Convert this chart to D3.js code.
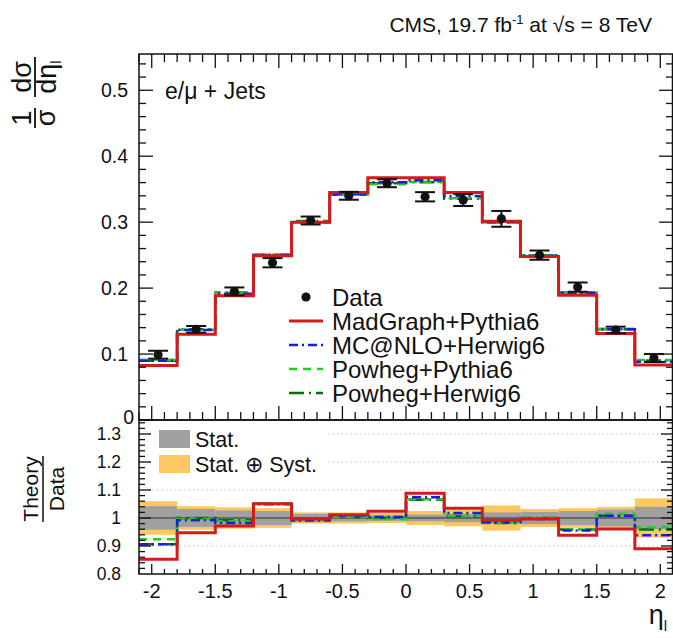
<!DOCTYPE html>
<html>
<head>
<meta charset="utf-8">
<script src="https://cdn.jsdelivr.net/npm/d3@7"></script>
<style>
  html, body { margin: 0; padding: 0; background: #fff; }
  svg { display: block; font-family: "Liberation Sans", Arial, Helvetica, sans-serif; }
</style>
</head>
<body>
<svg id="chart" width="673" height="638"></svg>
<script>
// ---------------- data ----------------
const etaEdges = [-2.1, -1.8, -1.5, -1.2, -0.9, -0.6, -0.3, 0, 0.3, 0.6, 0.9, 1.2, 1.5, 1.8, 2.1];
const dataValues = [0.099, 0.1375, 0.195, 0.2385, 0.3025, 0.340, 0.359, 0.3385, 0.3335, 0.305, 0.250, 0.2015, 0.1365, 0.094];
const dataErrors = [0.006, 0.005, 0.006, 0.007, 0.006, 0.006, 0.006, 0.007, 0.009, 0.012, 0.007, 0.007, 0.005, 0.006];

const madgraphPythia6 = [0.0825, 0.130, 0.1885, 0.249, 0.300, 0.345, 0.3675, 0.3675, 0.345, 0.3015, 0.248, 0.189, 0.131, 0.0835];
const mcatnloHerwig6  = [0.0897, 0.1364, 0.1915, 0.2502, 0.2998, 0.343, 0.3604, 0.3635, 0.3395, 0.3004, 0.249, 0.1924, 0.1376, 0.0882];
const powhegPythia6   = [0.0915, 0.137, 0.1927, 0.2507, 0.3007, 0.3414, 0.3576, 0.3612, 0.3362, 0.2995, 0.2498, 0.1932, 0.1385, 0.0909];
const powhegHerwig6   = [0.0897, 0.1375, 0.1934, 0.2507, 0.3019, 0.3414, 0.359, 0.3605, 0.3355, 0.2995, 0.250, 0.1932, 0.1376, 0.0901];

const ratioMadgraph = [0.853, 0.947, 0.971, 1.051, 0.996, 1.012, 1.024, 1.088, 1.035, 0.992, 0.996, 0.938, 0.961, 0.890];
const ratioMcatnlo  = [0.906, 0.992, 0.982, 1.049, 0.991, 1.009, 1.004, 1.074, 1.018, 0.985, 0.996, 0.955, 1.008, 0.938];
const ratioPowhegPy = [0.924, 0.996, 0.988, 1.051, 0.994, 1.004, 0.996, 1.067, 1.008, 0.982, 0.999, 0.959, 1.015, 0.967];
const ratioPowhegHw = [0.906, 1.000, 0.992, 1.051, 0.998, 1.004, 1.000, 1.065, 1.006, 0.982, 1.000, 0.959, 1.008, 0.959];

const statUnc  = [0.042, 0.032, 0.027, 0.025, 0.015, 0.012, 0.010, 0.012, 0.015, 0.020, 0.022, 0.025, 0.030, 0.040];
const totalUnc = [0.060, 0.042, 0.038, 0.035, 0.020, 0.020, 0.018, 0.025, 0.030, 0.045, 0.032, 0.035, 0.040, 0.070];

const xTickLabels = ["-2", "-1.5", "-1", "-0.5", "0", "0.5", "1", "1.5", "2"];
const xTickValues = [-2, -1.5, -1, -0.5, 0, 0.5, 1, 1.5, 2];
const yTickLabels = ["0", "0.1", "0.2", "0.3", "0.4", "0.5"];
const yTickValues = [0, 0.1, 0.2, 0.3, 0.4, 0.5];
const rTickLabels = ["0.8", "0.9", "1", "1.1", "1.2", "1.3"];
const rTickValues = [0.8, 0.9, 1, 1.1, 1.2, 1.3];
const rGridLines = [0.9, 1.1, 1.2, 1.3];

const seriesNames = ["MadGraph+Pythia6", "MC@NLO+Herwig6", "Powheg+Pythia6", "Powheg+Herwig6"];
const seriesColors = ["#d41a1a", "#1a1ae6", "#22cc22", "#0b6a12"];
const seriesDash = [null, "9,4,2,4", "8,6", "15,5,2,5"];
const seriesWidth = [3, 2.5, 2.5, 2.5];
const topSeries = [madgraphPythia6, mcatnloHerwig6, powhegPythia6, powhegHerwig6];
const ratioSeries = [ratioMadgraph, ratioMcatnlo, ratioPowhegPy, ratioPowhegHw];

// ---------------- layout ----------------
const L = 139, R = 673, T = 54, MID = 420, B = 574;
const svg = d3.select("#chart");
const x = d3.scaleLinear().domain([-2.1, 2.1]).range([L, R]);
const y = d3.scaleLinear().domain([0, 0.555]).range([MID, T]);
const yr = d3.scaleLinear().domain([0.8, 1.35]).range([B, MID]);
const ink = "#111";

svg.append("clipPath").attr("id", "cTop").append("rect")
  .attr("x", L).attr("y", T).attr("width", R - L).attr("height", MID - T);
svg.append("clipPath").attr("id", "cR").append("rect")
  .attr("x", L).attr("y", MID).attr("width", R - L).attr("height", B - MID);

const bins = dataValues.map((v, i) => ({ lo: etaEdges[i], hi: etaEdges[i + 1], i }));
const stepPts = vals => vals.flatMap((v, i) => [[etaEdges[i], v], [etaEdges[i + 1], v]]);

// ---------------- ratio panel ----------------
const gR = svg.append("g").attr("clip-path", "url(#cR)");
gR.selectAll("line.grid").data(rGridLines).join("line")
  .attr("x1", L).attr("x2", R).attr("y1", d => yr(d)).attr("y2", d => yr(d))
  .attr("stroke", "#bbb").attr("stroke-width", 1).attr("stroke-dasharray", "1.5,3");
gR.selectAll("rect.tot").data(bins).join("rect")
  .attr("x", d => x(d.lo)).attr("width", d => x(d.hi) - x(d.lo))
  .attr("y", d => yr(1 + totalUnc[d.i])).attr("height", d => yr(1 - totalUnc[d.i]) - yr(1 + totalUnc[d.i]))
  .attr("fill", "#fdc862");
gR.selectAll("rect.stat").data(bins).join("rect")
  .attr("x", d => x(d.lo)).attr("width", d => x(d.hi) - x(d.lo))
  .attr("y", d => yr(1 + statUnc[d.i])).attr("height", d => yr(1 - statUnc[d.i]) - yr(1 + statUnc[d.i]))
  .attr("fill", "#a0a0a0");
gR.append("line").attr("x1", L).attr("x2", R).attr("y1", yr(1)).attr("y2", yr(1))
  .attr("stroke", "#555").attr("stroke-width", 1.6);

const lineR = d3.line().x(d => x(d[0])).y(d => yr(d[1]));
[3, 2, 1, 0].forEach(k => {
  gR.append("path").attr("d", lineR(stepPts(ratioSeries[k])))
    .attr("fill", "none").attr("stroke", seriesColors[k]).attr("stroke-width", seriesWidth[k])
    .attr("stroke-dasharray", seriesDash[k]);
});

// ratio legend
const rl = svg.append("g");
rl.append("rect").attr("x", 152).attr("y", 424).attr("width", 175).attr("height", 54).attr("fill", "#fff");
rl.append("rect").attr("x", 159).attr("y", 430).attr("width", 31).attr("height", 18).attr("fill", "#a0a0a0");
rl.append("rect").attr("x", 159).attr("y", 455).attr("width", 31).attr("height", 18).attr("fill", "#fdc862");
rl.append("text").attr("x", 195).attr("y", 447).attr("font-size", 21.5).attr("fill", ink).text("Stat.");
rl.append("text").attr("x", 195).attr("y", 472).attr("font-size", 21.5).attr("fill", ink).text("Stat. \u2295 Syst.");

// ---------------- top panel ----------------
const gT = svg.append("g").attr("clip-path", "url(#cTop)");
const lineT = d3.line().x(d => x(d[0])).y(d => y(d[1]));
[3, 2, 1, 0].forEach(k => {
  gT.append("path").attr("d", lineT(stepPts(topSeries[k])))
    .attr("fill", "none").attr("stroke", seriesColors[k]).attr("stroke-width", seriesWidth[k])
    .attr("stroke-dasharray", seriesDash[k]);
});
// data points
const pts = gT.selectAll("g.pt").data(bins).join("g");
const cx = d => x((d.lo + d.hi) / 2);
pts.append("line").attr("x1", cx).attr("x2", cx)
  .attr("y1", d => y(dataValues[d.i] - dataErrors[d.i])).attr("y2", d => y(dataValues[d.i] + dataErrors[d.i]))
  .attr("stroke", ink).attr("stroke-width", 2);
[-1, 1].forEach(s => {
  pts.append("line").attr("x1", d => cx(d) - 10).attr("x2", d => cx(d) + 10)
    .attr("y1", d => y(dataValues[d.i] + s * dataErrors[d.i])).attr("y2", d => y(dataValues[d.i] + s * dataErrors[d.i]))
    .attr("stroke", ink).attr("stroke-width", 2);
});
pts.append("circle").attr("cx", cx).attr("cy", d => y(dataValues[d.i])).attr("r", 4.6).attr("fill", ink);

// top legend
const lg = svg.append("g").attr("font-size", 24).attr("fill", ink);
const rowY = i => 297 + 24 * i;
lg.append("circle").attr("cx", 306).attr("cy", rowY(0)).attr("r", 4.6).attr("fill", ink);
lg.append("text").attr("x", 332).attr("y", rowY(0) + 9).text("Data");
seriesNames.forEach((n, k) => {
  lg.append("line").attr("x1", 289).attr("x2", 323).attr("y1", rowY(k + 1)).attr("y2", rowY(k + 1))
    .attr("stroke", seriesColors[k]).attr("stroke-width", seriesWidth[k]).attr("stroke-dasharray", seriesDash[k]);
  lg.append("text").attr("x", 332).attr("y", rowY(k + 1) + 9).text(n);
});

svg.append("text").attr("x", 165).attr("y", 99).attr("font-size", 23).attr("fill", ink).text("e/\u03bc + Jets");

// ---------------- frames & ticks ----------------
const fr = svg.append("g").attr("stroke", ink).attr("fill", "none");
fr.append("rect").attr("x", L).attr("y", T).attr("width", R - L - 0.5).attr("height", MID - T).attr("stroke-width", 1.5);
fr.append("rect").attr("x", L).attr("y", MID).attr("width", R - L - 0.5).attr("height", B - MID).attr("stroke-width", 1.5);

const xMinor = d3.range(-21, 22).map(v => v / 10);
const isMajorX = v => Math.abs(v * 2 - Math.round(v * 2)) < 1e-6;
function vTicks(yy, dir, majLen, minLen) {
  fr.selectAll(null).data(xMinor).join("line")
    .attr("x1", d => x(d)).attr("x2", d => x(d))
    .attr("y1", yy).attr("y2", d => yy + dir * (isMajorX(d) ? majLen : minLen))
    .attr("stroke-width", 1.3);
}
vTicks(T, 1, 14, 8);
vTicks(MID, -1, 14, 8);
vTicks(B, -1, 10, 5);

function hTicks(scale, vals, isMaj, majLen, minLen) {
  fr.selectAll(null).data(vals).join("line")
    .attr("x1", L).attr("x2", d => L + (isMaj(d) ? majLen : minLen))
    .attr("y1", d => scale(d)).attr("y2", d => scale(d)).attr("stroke-width", 1.3);
  fr.selectAll(null).data(vals).join("line")
    .attr("x1", R).attr("x2", d => R - (isMaj(d) ? majLen : minLen))
    .attr("y1", d => scale(d)).attr("y2", d => scale(d)).attr("stroke-width", 1.3);
}
const yMinor = d3.range(0, 28).map(v => v / 50);
hTicks(y, yMinor, d => Math.abs(d * 10 - Math.round(d * 10)) < 1e-6, 14, 7);
const rMinor = d3.range(40, 68).map(v => v / 50);
hTicks(yr, rMinor.filter(d => d > 0.8 && d < 1.35), d => Math.abs(d * 10 - Math.round(d * 10)) < 1e-6, 12, 6);

// tick labels
svg.append("g").attr("font-size", 19.5).attr("fill", ink).attr("text-anchor", "end")
  .selectAll("text").data(yTickValues).join("text")
  .attr("x", d => d === 0 ? 134 : 128).attr("y", d => d === 0 ? y(d) + 4 : y(d) + 7).text((d, i) => yTickLabels[i]);
svg.append("g").attr("font-size", 17.5).attr("fill", ink).attr("text-anchor", "end")
  .selectAll("text").data(rTickValues).join("text")
  .attr("x", 121).attr("y", d => yr(d) + 6).text((d, i) => rTickLabels[i]);
svg.append("g").attr("font-size", 20).attr("fill", ink).attr("text-anchor", "middle")
  .selectAll("text").data(xTickValues).join("text")
  .attr("x", d => x(d)).attr("y", 598).text((d, i) => xTickLabels[i]);

// axis titles
const xt = svg.append("text").attr("x", 667).attr("y", 624).attr("font-size", 27).attr("fill", ink).attr("text-anchor", "end");
xt.append("tspan").text("\u03b7");
xt.append("tspan").attr("font-size", 15).attr("dy", 7).text("l");

const yl = svg.append("g").attr("transform", "translate(35,0) rotate(-90)").attr("fill", ink).attr("font-size", 27).attr("text-anchor", "middle");
yl.append("text").attr("x", -118).attr("y", -4).text("1");
yl.append("text").attr("x", -118).attr("y", 20).text("\u03c3");
yl.append("line").attr("x1", -128).attr("x2", -108).attr("y1", 0).attr("y2", 0).attr("stroke", ink).attr("stroke-width", 1.8);
yl.append("text").attr("x", -77).attr("y", -4).text("d\u03c3");
const dn = yl.append("text").attr("x", -77).attr("y", 21);
dn.append("tspan").text("d\u03b7");
dn.append("tspan").attr("font-size", 15).attr("dy", 5).text("l");
yl.append("line").attr("x1", -97).attr("x2", -57).attr("y1", 0).attr("y2", 0).attr("stroke", ink).attr("stroke-width", 1.8);

const rlab = svg.append("g").attr("transform", "translate(43,489) rotate(-90)").attr("fill", ink).attr("font-size", 21).attr("text-anchor", "middle");
rlab.append("text").attr("x", 0).attr("y", -5).text("Theory");
rlab.append("text").attr("x", 0).attr("y", 21).text("Data");
rlab.append("line").attr("x1", -33).attr("x2", 33).attr("y1", 0).attr("y2", 0).attr("stroke", ink).attr("stroke-width", 1.5);

// title
const tt = svg.append("text").attr("x", 652).attr("y", 32).attr("font-size", 21).attr("fill", ink).attr("text-anchor", "end");
tt.append("tspan").text("CMS, 19.7 fb");
tt.append("tspan").attr("font-size", 13).attr("dy", -8).text("-1");
tt.append("tspan").attr("dy", 8).text(" at \u221As = 8 TeV");
</script>
</body>
</html>
